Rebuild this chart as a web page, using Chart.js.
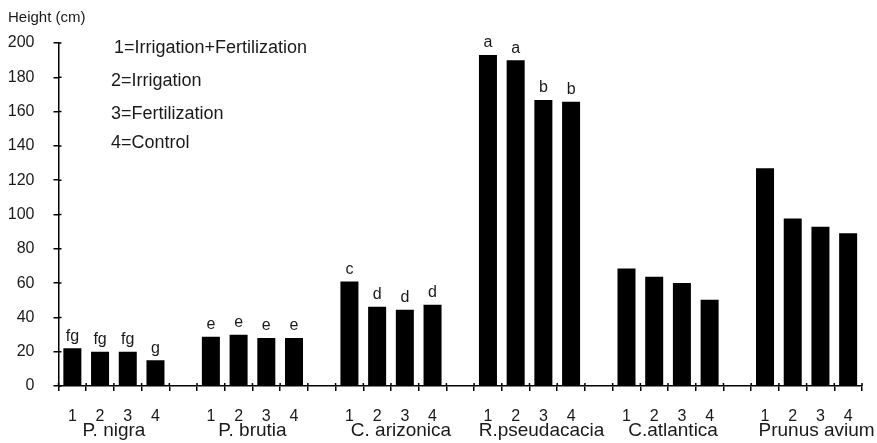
<!DOCTYPE html>
<html>
<head>
<meta charset="utf-8">
<script src="https://cdn.jsdelivr.net/npm/chart.js@4/dist/chart.umd.min.js"></script>
<style>
  html, body { margin: 0; padding: 0; background: #fff; }
  #wrap { width: 877px; height: 443px; position: relative; }
</style>
</head>
<body>
<div id="wrap"><canvas id="c"></canvas></div>
<script>
// Species and treatments
const species = ['P. nigra', 'P. brutia', 'C. arizonica', 'R.pseudacacia', 'C.atlantica', 'Prunus avium'];
const treatments = ['1', '2', '3', '4'];
const treatmentKey = ['1=Irrigation+Fertilization', '2=Irrigation', '3=Fertilization', '4=Control'];

// Mean height (cm) per species, treatments 1..4
const pNigra       = [22, 20, 20, 15];
const pBrutia      = [28.7, 29.9, 28, 28];
const cArizonica   = [61, 46.2, 44.5, 47.4];
const rPseudacacia = [193, 190, 166.8, 165.8];
const cAtlantica   = [68.5, 63.7, 60, 50.3];
const prunusAvium  = [127, 97.7, 92.8, 89.1];

// Significance letters per species (empty = none shown)
const lettersNigra       = ['fg', 'fg', 'fg', 'g'];
const lettersBrutia      = ['e', 'e', 'e', 'e'];
const lettersArizonica   = ['c', 'd', 'd', 'd'];
const lettersPseudacacia = ['a', 'a', 'b', 'b'];
const lettersAtlantica   = ['', '', '', ''];
const lettersPrunus      = ['', '', '', ''];

// Y axis ticks
const yTicks = [0, 20, 40, 60, 80, 100, 120, 140, 160, 180, 200];

const heights = [pNigra, pBrutia, cArizonica, rPseudacacia, cAtlantica, prunusAvium];
const letters = [lettersNigra, lettersBrutia, lettersArizonica, lettersPseudacacia, lettersAtlantica, lettersPrunus];

// Flatten into slots: 4 bars per species plus an empty slot between groups
const labels = [], values = [], barLetters = [], groupCentres = [];
species.forEach((sp, g) => {
  const start = labels.length;
  treatments.forEach((t, i) => {
    labels.push(t);
    values.push(heights[g][i]);
    barLetters.push(letters[g][i]);
  });
  groupCentres.push(start + 1.5);
  if (g < species.length - 1) {
    labels.push('');
    values.push(null);
    barLetters.push('');
  }
});

const FONT = '"Liberation Sans", Arial, sans-serif';
const TXT = '#1a1a1a';

// Letters above bars
const letterPlugin = {
  id: 'barLetters',
  afterDatasetsDraw(chart) {
    const meta = chart.getDatasetMeta(0);
    const ctx = chart.ctx;
    ctx.save();
    ctx.fillStyle = TXT;
    ctx.font = '16px ' + FONT;
    ctx.textAlign = 'center';
    ctx.textBaseline = 'bottom';
    meta.data.forEach((bar, i) => {
      if (!barLetters[i] || values[i] == null) return;
      ctx.fillText(barLetters[i], bar.x, bar.y - 4);
    });
    ctx.restore();
  }
};

// Species names under each group of four bars
const groupNamePlugin = {
  id: 'groupNames',
  afterDraw(chart) {
    const xs = chart.scales.x;
    const ctx = chart.ctx;
    const nudge = [0, 0, 10, 12, 5, 10];
    ctx.save();
    ctx.fillStyle = TXT;
    ctx.font = '19px ' + FONT;
    ctx.textAlign = 'center';
    ctx.textBaseline = 'middle';
    species.forEach((name, g) => {
      ctx.fillText(name, xs.getPixelForValue(groupCentres[g]) + nudge[g], xs.top + 45);
    });
    ctx.restore();
  }
};

// Axis title and treatment key text
const annotPlugin = {
  id: 'annot',
  afterDraw(chart) {
    const ctx = chart.ctx;
    ctx.save();
    ctx.fillStyle = TXT;
    ctx.textBaseline = 'middle';
    ctx.textAlign = 'left';
    ctx.font = '15px ' + FONT;
    ctx.fillText('Height (cm)', 8, 18);
    ctx.font = '18px ' + FONT;
    const keyY = [48, 81, 114, 143];
    const keyX = [114, 111, 111, 111];
    treatmentKey.forEach((t, i) => ctx.fillText(t, keyX[i], keyY[i]));
    ctx.restore();
  }
};

// Tick marks crossing to the inner side of the axes
const crossTicks = {
  id: 'crossTicks',
  afterDraw(chart) {
    const ctx = chart.ctx;
    const xs = chart.scales.x, ys = chart.scales.y;
    ctx.save();
    ctx.strokeStyle = '#000';
    ctx.lineWidth = 1.5;
    ctx.beginPath();
    ys.ticks.forEach(t => {
      const py = ys.getPixelForValue(t.value);
      ctx.moveTo(ys.right, py); ctx.lineTo(ys.right + 3, py);
    });
    for (let i = 0; i <= labels.length; i++) {
      const px = xs.getPixelForValue(i - 0.5);
      ctx.moveTo(px, xs.top); ctx.lineTo(px, xs.top - 3);
    }
    ctx.stroke();
    ctx.restore();
  }
};

new Chart(document.getElementById('c'), {
  type: 'bar',
  data: {
    labels: labels,
    datasets: [{
      data: values,
      backgroundColor: '#000',
      borderWidth: 0,
      categoryPercentage: 1,
      barPercentage: 0.65
    }]
  },
  options: {
    responsive: true,
    maintainAspectRatio: false,
    animation: false,
    layout: { padding: { top: 43, right: 15, left: 0, bottom: 0 } },
    plugins: { legend: { display: false }, tooltip: { enabled: false } },
    scales: {
      x: {
        type: 'category',
        offset: true,
        grid: { display: true, drawOnChartArea: false, drawTicks: true, tickLength: 5, color: '#000', lineWidth: 1.5, offset: true },
        border: { display: true, color: '#000', width: 1.5 },
        ticks: { color: TXT, font: { family: FONT, size: 16 }, padding: 16, maxRotation: 0, autoSkip: false },
        afterFit(s) { s.height = 57; }
      },
      y: {
        min: 0,
        max: 200,
        afterBuildTicks(s) { s.ticks = yTicks.map(v => ({ value: v })); },
        grid: { display: true, drawOnChartArea: false, drawTicks: true, tickLength: 5, color: '#000', lineWidth: 1.5 },
        border: { display: true, color: '#000', width: 1.5 },
        ticks: { color: TXT, font: { family: FONT, size: 16 }, padding: 19 },
        afterFit(s) { s.width = 58.5; }
      }
    }
  },
  plugins: [letterPlugin, groupNamePlugin, annotPlugin, crossTicks]
});
</script>
</body>
</html>
